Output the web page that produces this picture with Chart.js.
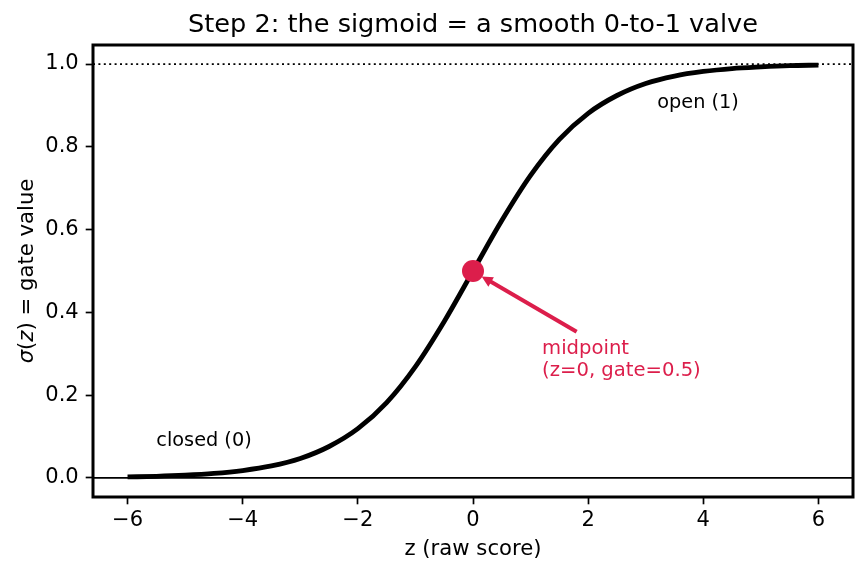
<!DOCTYPE html>
<html lang="en">
<head>
    <meta charset="UTF-8">
    <title>Sigmoid gate</title>
    <script src="https://cdn.jsdelivr.net/npm/chart.js@4.4.0/dist/chart.umd.min.js"></script>
    <style>
        body { margin: 0; background: #fff; }
    </style>
</head>
<body>
    <canvas id="chart" width="866" height="573"></canvas>

    <script>
    // values
    const zValues = [-6, -5.5, -5, -4.5, -4, -3.5, -3, -2.5, -2, -1.5, -1, -0.5, 0,
                     0.5, 1, 1.5, 2, 2.5, 3, 3.5, 4, 4.5, 5, 5.5, 6];
    const gateValues = [0.0025, 0.004, 0.0067, 0.011, 0.018, 0.029, 0.047, 0.076, 0.119, 0.182, 0.269, 0.378, 0.5,
                        0.622, 0.731, 0.818, 0.881, 0.924, 0.953, 0.971, 0.982, 0.989, 0.993, 0.996, 0.9975];
    const midpoint = { z: 0, gate: 0.5 };
    const xTicks = [-6, -4, -2, 0, 2, 4, 6];
    const yTicks = [0, 0.2, 0.4, 0.6, 0.8, 1.0];
    const xRange = [-6.6, 6.6];
    const yRange = [-0.046, 1.046];

    const RED = '#dc1e4b';
    const FONT = 'DejaVu Sans';

    const curve = zValues.map((z, i) => ({ x: z, y: gateValues[i] }));

    const extras = {
        id: 'extras',
        afterDatasetsDraw(chart) {
            const ctx = chart.ctx;
            const xs = chart.scales.x, ys = chart.scales.y;
            const px = v => xs.getPixelForValue(v);
            const py = v => ys.getPixelForValue(v);
            const area = chart.chartArea;

            ctx.save();
            // arrow from label to the midpoint
            const x0 = px(1.8), y0 = py(0.353);
            const x1 = px(0.15), y1 = py(0.487);
            const ang = Math.atan2(y1 - y0, x1 - x0);
            const hl = 11, hw = 5.5;
            ctx.strokeStyle = RED;
            ctx.fillStyle = RED;
            ctx.lineWidth = 4;
            ctx.beginPath();
            ctx.moveTo(x0, y0);
            ctx.lineTo(x1 - Math.cos(ang) * hl * 0.8, y1 - Math.sin(ang) * hl * 0.8);
            ctx.stroke();
            ctx.beginPath();
            ctx.moveTo(x1, y1);
            ctx.lineTo(x1 - Math.cos(ang) * hl - Math.sin(ang) * hw, y1 - Math.sin(ang) * hl + Math.cos(ang) * hw);
            ctx.lineTo(x1 - Math.cos(ang) * hl + Math.sin(ang) * hw, y1 - Math.sin(ang) * hl - Math.cos(ang) * hw);
            ctx.closePath();
            ctx.fill();

            // labels
            ctx.textAlign = 'left';
            ctx.textBaseline = 'alphabetic';
            ctx.font = '19.6px "' + FONT + '"';
            ctx.fillText('midpoint', px(1.2), 354);
            ctx.fillText('(z=0, gate=0.5)', px(1.2), 376);
            ctx.fillStyle = '#000';
            ctx.font = '19.3px "' + FONT + '"';
            ctx.fillText('open (1)', px(3.2), 108);
            ctx.fillText('closed (0)', px(-5.5), 446);

            // frame
            ctx.strokeStyle = '#000';
            ctx.lineWidth = 3;
            ctx.strokeRect(area.left, area.top, area.right - area.left, area.bottom - area.top);

            // title and axis titles
            ctx.textAlign = 'center';
            ctx.font = '25.6px "' + FONT + '"';
            ctx.fillText('Step 2: the sigmoid = a smooth 0-to-1 valve', (area.left + area.right) / 2, 32);
            ctx.font = '21.2px "' + FONT + '"';
            ctx.fillText('z (raw score)', (area.left + area.right) / 2, 555);

            ctx.translate(33, (area.top + area.bottom) / 2);
            ctx.rotate(-Math.PI / 2);
            const parts = [['σ', true], ['(', false], ['z', true], [')', false], [' = gate value', false]];
            let total = 0;
            parts.forEach(p => {
                ctx.font = (p[1] ? 'italic ' : '') + '21.2px "' + FONT + '"';
                total += ctx.measureText(p[0]).width;
            });
            let cx = -total / 2;
            ctx.textAlign = 'left';
            parts.forEach(p => {
                ctx.font = (p[1] ? 'italic ' : '') + '21.2px "' + FONT + '"';
                ctx.fillText(p[0], cx, 0);
                cx += ctx.measureText(p[0]).width;
            });
            ctx.restore();
        }
    };

    const ctx = document.getElementById('chart').getContext('2d');
    new Chart(ctx, {
        type: 'scatter',
        data: {
            datasets: [
                {
                    data: [{ x: midpoint.z, y: midpoint.gate }],
                    pointRadius: 11,
                    pointBackgroundColor: RED,
                    pointBorderWidth: 0,
                    showLine: false,
                    clip: false
                },
                {
                    data: curve,
                    showLine: true,
                    borderColor: '#000',
                    borderWidth: 4.8,
                    pointRadius: 0,
                    cubicInterpolationMode: 'monotone'
                },
                {
                    data: [{ x: xRange[0], y: 1 }, { x: xRange[1], y: 1 }],
                    showLine: true,
                    borderColor: '#000',
                    borderWidth: 1.7,
                    borderDash: [2, 3.4],
                    pointRadius: 0
                },
                {
                    data: [{ x: xRange[0], y: 0 }, { x: xRange[1], y: 0 }],
                    showLine: true,
                    borderColor: '#000',
                    borderWidth: 1.7,
                    pointRadius: 0
                }
            ]
        },
        options: {
            responsive: false,
            animation: false,
            layout: { padding: { top: 45, right: 13, left: 0, bottom: 0 } },
            plugins: { legend: { display: false }, tooltip: { enabled: false } },
            scales: {
                x: {
                    type: 'linear',
                    min: xRange[0],
                    max: xRange[1],
                    afterFit: s => { s.height = 76; },
                    afterBuildTicks: s => { s.ticks = xTicks.map(v => ({ value: v })); },
                    grid: { drawOnChartArea: false, drawTicks: true, tickLength: 7.3, tickWidth: 1.7, tickColor: '#000' },
                    border: { display: false },
                    ticks: {
                        color: '#000',
                        padding: 4,
                        maxRotation: 0,
                        font: { family: FONT, size: 21 },
                        callback: v => (v < 0 ? '\u2212' + Math.abs(v) : String(v))
                    }
                },
                y: {
                    min: yRange[0],
                    max: yRange[1],
                    afterFit: s => { s.width = 93; },
                    afterBuildTicks: s => { s.ticks = yTicks.map(v => ({ value: v })); },
                    grid: { drawOnChartArea: false, drawTicks: true, tickLength: 7.3, tickWidth: 1.7, tickColor: '#000' },
                    border: { display: false },
                    ticks: {
                        color: '#000',
                        padding: 7,
                        font: { family: FONT, size: 21 },
                        callback: v => v.toFixed(1)
                    }
                }
            }
        },
        plugins: [extras]
    });
    </script>
</body>
</html>
